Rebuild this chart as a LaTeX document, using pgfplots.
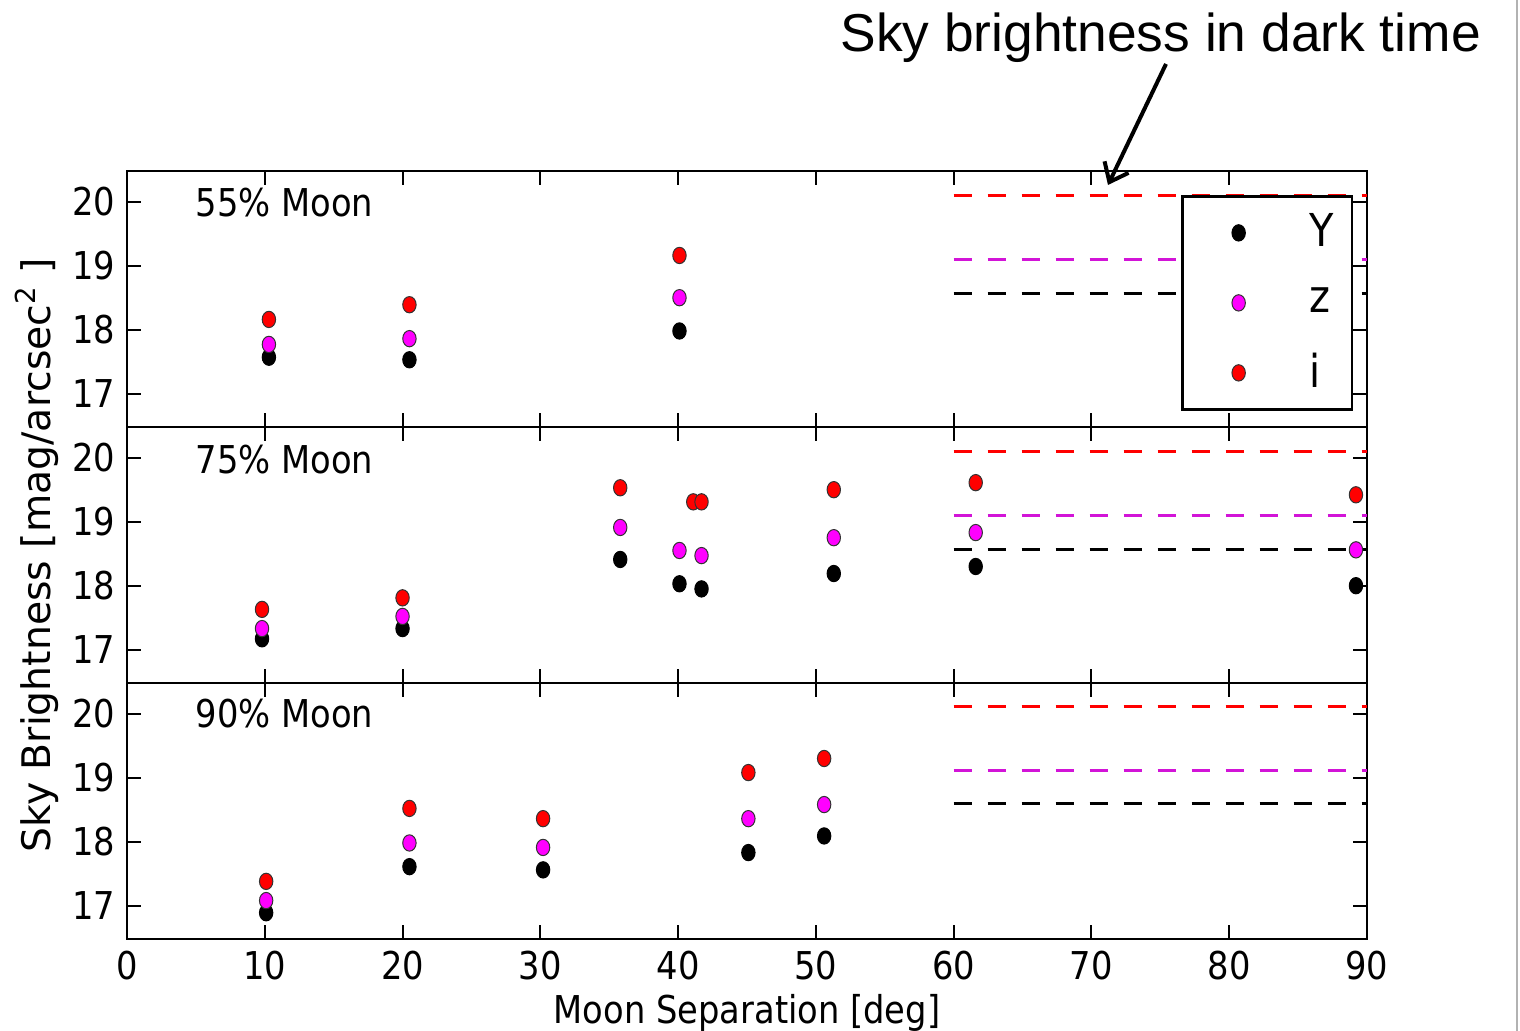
\documentclass[border=0pt]{standalone}
\usepackage{pgfplots}
\pgfplotsset{compat=1.18}
\usetikzlibrary{arrows.meta}
\usepackage{fontspec}
\setmainfont{DejaVu Sans}[FakeStretch=0.88]
\newfontfamily\dvfont{DejaVu Sans}
\newfontfamily\arialfont{Liberation Sans}
\definecolor{dmag}{RGB}{210,20,215}
\definecolor{mgt}{RGB}{255,0,255}
\definecolor{rd}{RGB}{255,0,0}

\pgfplotsset{
  panel/.style={
    scale only axis, width=372pt, height=76.8pt, anchor=south west,
    xmin=0, xmax=90, ymin=16.48, ymax=20.48,
    xtick={0,10,...,90}, ytick={17,18,19,20},
    tick align=inside, major tick length=4.2pt,
    every tick/.style={black, line width=0.6pt},
    axis line style={line width=0.85pt},
    tick label style={font=\fontsize{11.5}{12}\selectfont},
    /pgf/number format/assume math mode=true,
  },
  ymk/.style={only marks, mark=*, mark size=2.45pt, mark options={xscale=0.82, fill=black, draw=black, line width=0.3pt}},
  zmk/.style={only marks, mark=*, mark size=2.45pt, mark options={xscale=0.82, fill=mgt, draw=black!80, line width=0.3pt}},
  imk/.style={only marks, mark=*, mark size=2.45pt, mark options={xscale=0.82, fill=rd, draw=black!80, line width=0.3pt}},
  dl/.style={forget plot, dash pattern=on 5.4pt off 4.8pt, line width=0.9pt},
}

\begin{document}
\begin{tikzpicture}
\useasboundingbox (0,0) rectangle (456pt,309.3pt);

% ---------- 55% Moon ----------
\begin{axis}[panel, at={(38.1pt,181.2pt)}, xticklabels={},
  legend style={at={(0.85,0.906)}, anchor=north west, draw=black, line width=0.8pt, fill=white,
    inner xsep=0pt, inner ysep=0.45pt, row sep=0pt, column sep=0pt,
    font=\fontsize{13.6}{14}\selectfont, cells={anchor=west},
    nodes={minimum height=21pt, inner sep=0pt, text width=12.9pt, align=left}},
  legend image code/.code={\path (-16.5pt,0) (20.7pt,0); \draw[#1] plot coordinates {(0pt,0pt)};},
]
\addplot[dl, rd] coordinates {(60,20.1) (90,20.1)};
\addplot[dl, dmag] coordinates {(60,19.1) (90,19.1)};
\addplot[dl, black] coordinates {(60,18.57) (90,18.57)};
\addplot[ymk] coordinates {(10.3,17.57) (20.5,17.53) (40.1,17.98)};
\addplot[zmk] coordinates {(10.3,17.77) (20.5,17.86) (40.1,18.50)};
\addplot[imk] coordinates {(10.3,18.16) (20.5,18.39) (40.1,19.16)};
\legend{Y,z,i}
\node[anchor=west, inner sep=0pt, font=\fontsize{11.5}{12}\selectfont] at (rel axis cs:0.055,0.875) {55\% Moon};
\end{axis}

% ---------- 75% Moon ----------
\begin{axis}[panel, at={(38.1pt,104.4pt)}, xticklabels={}]
\addplot[dl, rd] coordinates {(60,20.1) (90,20.1)};
\addplot[dl, dmag] coordinates {(60,19.1) (90,19.1)};
\addplot[dl, black] coordinates {(60,18.57) (90,18.57)};
\addplot[ymk] coordinates {(9.8,17.17) (20.0,17.33) (35.8,18.41) (40.1,18.03) (41.7,17.95) (51.3,18.19) (61.6,18.30) (89.2,18.00)};
\addplot[zmk] coordinates {(9.8,17.33) (20.0,17.52) (35.8,18.91) (40.1,18.55) (41.7,18.47) (51.3,18.75) (61.6,18.83) (89.2,18.56)};
\addplot[imk] coordinates {(9.8,17.63) (20.0,17.81) (35.8,19.53) (41.1,19.31) (41.7,19.31) (51.3,19.50) (61.6,19.61) (89.2,19.42)};
\node[anchor=west, inner sep=0pt, font=\fontsize{11.5}{12}\selectfont] at (rel axis cs:0.055,0.872) {75\% Moon};
\end{axis}

% ---------- 90% Moon ----------
\begin{axis}[panel, at={(38.1pt,27.6pt)}]
\addplot[dl, rd] coordinates {(60,20.12) (90,20.12)};
\addplot[dl, dmag] coordinates {(60,19.11) (90,19.11)};
\addplot[dl, black] coordinates {(60,18.59) (90,18.59)};
\addplot[ymk] coordinates {(10.1,16.89) (20.5,17.61) (30.2,17.56) (45.1,17.83) (50.6,18.09)};
\addplot[zmk] coordinates {(10.1,17.08) (20.5,17.98) (30.2,17.91) (45.1,18.36) (50.6,18.58)};
\addplot[imk] coordinates {(10.1,17.38) (20.5,18.52) (30.2,18.36) (45.1,19.08) (50.6,19.30)};
\node[anchor=west, inner sep=0pt, font=\fontsize{11.5}{12}\selectfont] at (rel axis cs:0.055,0.879) {90\% Moon};
\end{axis}

% labels
\node[rotate=90, font=\dvfont\fontsize{11.8}{12}\selectfont] at (11.0pt,142.8pt) {Sky Brightness [mag/arcsec\textsuperscript{2} ]};
\node[anchor=base, font=\fontsize{11.5}{12}\selectfont] at (224.1pt,2.1pt) {Moon Separation [deg]};

% annotation
\node[anchor=base, font=\arialfont\fontsize{16}{16}\selectfont] at (348.2pt,293.7pt) {Sky brightness in dark time};
\draw[line width=1.2pt, -{Straight Barb[length=5pt,width=8pt]}] (349.8pt,290.1pt) -- (332.4pt,253.8pt);

\draw[gray!60, line width=0.6pt] (455.2pt,0) -- (455.2pt,309.3pt);
\end{tikzpicture}
\end{document}
